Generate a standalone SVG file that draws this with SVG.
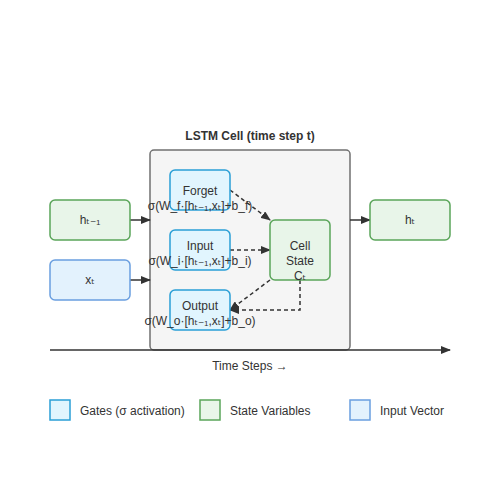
<svg xmlns="http://www.w3.org/2000/svg" width="500" height="500" viewBox="0 0 500 500">
<defs>
<marker id="arr" markerWidth="10" markerHeight="8" refX="9" refY="4" orient="auto" markerUnits="userSpaceOnUse">
<path d="M0,0 L10,4 L0,8 Z" fill="#333"/>
</marker>
<style>
text{font-family:"Liberation Sans",Arial,"DejaVu Sans",sans-serif;fill:#333;text-anchor:middle}
.gate{fill:#e1f5fe;stroke:#2a9fd6;stroke-width:1.5}
.state{fill:#e8f5e9;stroke:#5aa55a;stroke-width:1.5}
.inp{fill:#e3f2fd;stroke:#6a9fdf;stroke-width:1.5}
.lbl{font-size:12px}
.leg{font-size:12px;text-anchor:start}
.solid{stroke:#333;stroke-width:1.5;fill:none}
.dash{stroke:#333;stroke-width:1.5;fill:none;stroke-dasharray:4,3}
</style>
</defs>
<rect width="500" height="500" fill="#fff"/>
<text x="250" y="140" style="font-size:12px;font-weight:bold">LSTM Cell (time step t)</text>
<g id="cell-box"><rect x="150" y="150" width="200" height="200" rx="4" fill="#f5f5f5" stroke="#707070" stroke-width="1.5"/></g>
<g id="connectors">
<line class="solid" x1="130" y1="220" x2="150" y2="220" marker-end="url(#arr)"/>
<line class="solid" x1="130" y1="280" x2="150" y2="280" marker-end="url(#arr)"/>
<line class="solid" x1="350" y1="220" x2="370" y2="220" marker-end="url(#arr)"/>
<line class="dash" x1="230" y1="190" x2="270" y2="220" marker-end="url(#arr)"/>
<line class="dash" x1="230" y1="250" x2="270" y2="250" marker-end="url(#arr)"/>
<line class="dash" x1="270" y1="280" x2="230" y2="310" marker-end="url(#arr)"/>
<polyline class="dash" points="300,280 300,310 230,310" marker-end="url(#arr)"/>
<line class="solid" x1="50" y1="350" x2="450" y2="350" marker-end="url(#arr)"/>
</g>
<g id="forget"><rect class="gate" x="170" y="170" width="60" height="40" rx="5"/>
<text class="lbl" x="200" y="195">Forget</text>
<text class="lbl" x="200" y="210">σ(W_f·[hₜ₋₁,xₜ]+b_f)</text></g>
<g id="input"><rect class="gate" x="170" y="230" width="60" height="40" rx="5"/>
<text class="lbl" x="200" y="250">Input</text>
<text class="lbl" x="200" y="265">σ(W_i·[hₜ₋₁,xₜ]+b_i)</text></g>
<g id="output"><rect class="gate" x="170" y="290" width="60" height="40" rx="5"/>
<text class="lbl" x="200" y="310">Output</text>
<text class="lbl" x="200" y="325">σ(W_o·[hₜ₋₁,xₜ]+b_o)</text></g>
<g id="cellstate"><rect class="state" x="270" y="220" width="60" height="60" rx="5"/>
<text class="lbl" x="300" y="250">Cell</text>
<text class="lbl" x="300" y="265">State</text>
<text class="lbl" x="300" y="280">Cₜ</text></g>
<g id="hprev"><rect class="state" x="50" y="200" width="80" height="40" rx="5"/>
<text class="lbl" x="90" y="224">hₜ₋₁</text></g>
<g id="xt"><rect class="inp" x="50" y="260" width="80" height="40" rx="5"/>
<text class="lbl" x="90" y="284">xₜ</text></g>
<g id="ht"><rect class="state" x="370" y="200" width="80" height="40" rx="5"/>
<text class="lbl" x="410" y="224">hₜ</text></g>
<text x="250" y="370" style="font-size:12px">Time Steps →</text>
<g id="legend">
<rect class="gate" x="50" y="400" width="20" height="20"/>
<text class="leg" x="80" y="415">Gates (σ activation)</text>
<rect class="state" x="200" y="400" width="20" height="20"/>
<text class="leg" x="230" y="415">State Variables</text>
<rect class="inp" x="350" y="400" width="20" height="20"/>
<text class="leg" x="380" y="415">Input Vector</text>
</g>
</svg>
